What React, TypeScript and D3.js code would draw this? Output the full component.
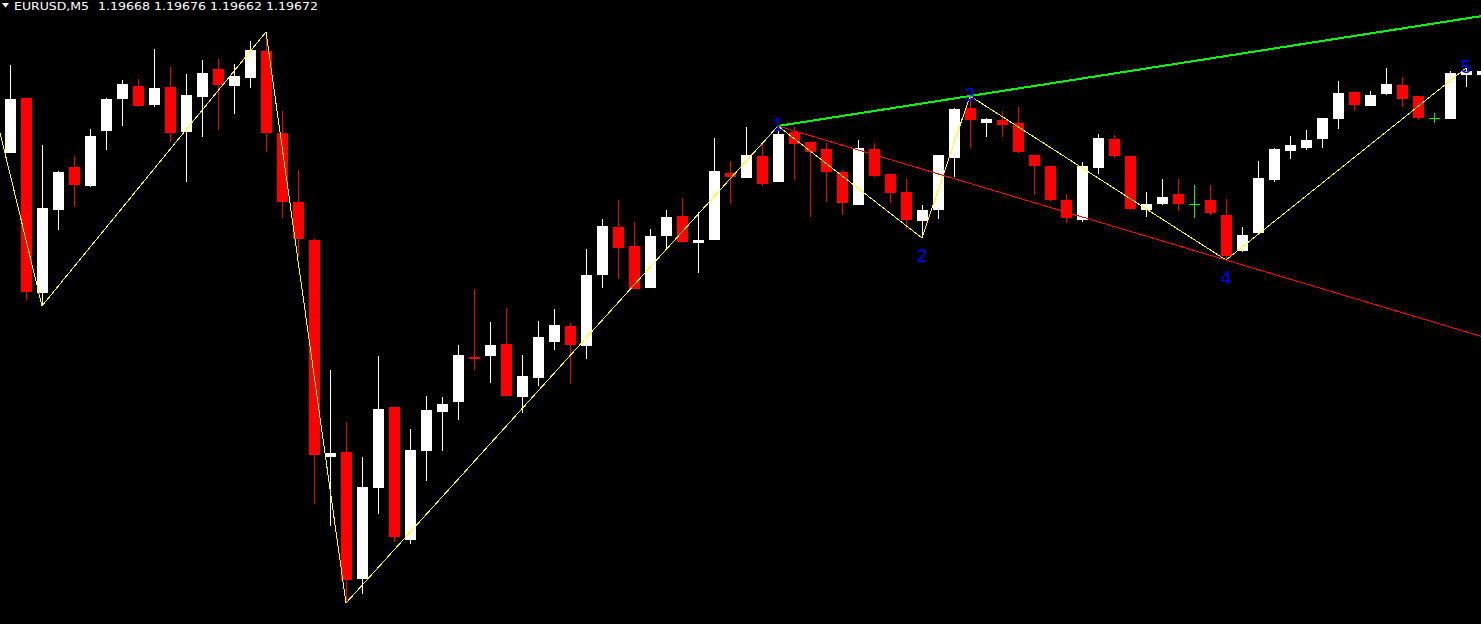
import React from "react";
import * as d3 from "d3";

const symbol = "EURUSD,M5";

const opens = [
  1.1959, 1.19645, 1.1945, 1.19533, 1.19576, 1.19557, 1.19612, 1.19644, 1.19657, 1.19638,
  1.19656, 1.19611, 1.19646, 1.19674, 1.19657, 1.19665, 1.19692, 1.1961, 1.19541, 1.19503,
  1.19286, 1.19291, 1.19164, 1.19255, 1.19336, 1.19203, 1.19292, 1.19331, 1.19341, 1.19386,
  1.19387, 1.19399, 1.19346, 1.19365, 1.19401, 1.19417, 1.19397, 1.19468, 1.19516, 1.19497,
  1.19455, 1.19507, 1.19527, 1.195, 1.19503, 1.1957, 1.19565, 1.19587, 1.19561, 1.19611,
  1.19601, 1.19594, 1.19571, 1.19538, 1.19594, 1.19569, 1.19551, 1.19522, 1.19533, 1.19585,
  1.19635, 1.1962, 1.19623, 1.1962, 1.19588, 1.19577, 1.19543, 1.19523, 1.19575, 1.19604,
  1.19587, 1.19533, 1.19539, 1.19549, 1.19539, 1.19543, 1.19528, 1.19492, 1.1951, 1.19563,
  1.19592, 1.19595, 1.19604, 1.19624, 1.19651, 1.19637, 1.19649, 1.19658, 1.19647, 1.19625,
  1.19624, 1.19668, 1.19668,
];
const highs = [
  1.19678, 1.19645, 1.19598, 1.19572, 1.19587, 1.19614, 1.19645, 1.19663, 1.19664, 1.19694,
  1.19676, 1.19669, 1.19683, 1.19684, 1.19679, 1.19702, 1.19711, 1.19632, 1.19573, 1.19504,
  1.19373, 1.19321, 1.19286, 1.19387, 1.19336, 1.19314, 1.19347, 1.19346, 1.19398, 1.19454,
  1.19421, 1.19435, 1.19388, 1.19422, 1.19434, 1.1942, 1.19494, 1.19524, 1.19543, 1.19521,
  1.19514, 1.19533, 1.19545, 1.19531, 1.19605, 1.19582, 1.19616, 1.19599, 1.19617, 1.19616,
  1.19601, 1.196, 1.19573, 1.19603, 1.196, 1.19569, 1.19564, 1.19538, 1.19588, 1.19635,
  1.19647, 1.19625, 1.19632, 1.19636, 1.19588, 1.19577, 1.19549, 1.19581, 1.19609, 1.19608,
  1.19587, 1.19551, 1.19564, 1.19564, 1.19558, 1.19558, 1.19544, 1.19516, 1.19582, 1.19595,
  1.19607, 1.19613, 1.19625, 1.19662, 1.19652, 1.19652, 1.19675, 1.19666, 1.19647, 1.1963,
  1.19672, 1.19675, 1.19676,
];
const lows = [
  1.1959, 1.19443, 1.19437, 1.19513, 1.19536, 1.19556, 1.19593, 1.19617, 1.19636, 1.19636,
  1.19601, 1.19561, 1.19606, 1.19613, 1.19629, 1.19655, 1.19591, 1.19525, 1.19486, 1.19239,
  1.19217, 1.1914, 1.19149, 1.19229, 1.19201, 1.19199, 1.19262, 1.19292, 1.19323, 1.19373,
  1.1936, 1.19346, 1.1933, 1.19357, 1.19393, 1.19359, 1.19384, 1.19455, 1.19464, 1.19454,
  1.19455, 1.19495, 1.195, 1.1947, 1.19503, 1.19539, 1.19565, 1.19557, 1.19561, 1.19563,
  1.19526, 1.19541, 1.19528, 1.19538, 1.19566, 1.1954, 1.19514, 1.19505, 1.19524, 1.19566,
  1.19595, 1.19606, 1.19606, 1.1959, 1.19548, 1.19542, 1.1952, 1.19521, 1.19569, 1.19585,
  1.19533, 1.19526, 1.19538, 1.19532, 1.19525, 1.19528, 1.19483, 1.19491, 1.1951, 1.19561,
  1.19584, 1.19593, 1.19595, 1.19614, 1.19632, 1.19637, 1.19648, 1.19636, 1.19623, 1.1962,
  1.19624, 1.19656, 1.19662,
];
const closes = [
  1.19644, 1.19451, 1.19535, 1.19571, 1.19558, 1.19607, 1.19644, 1.19659, 1.19637, 1.19655,
  1.1961, 1.19648, 1.1967, 1.19658, 1.19667, 1.19693, 1.1961, 1.19541, 1.19504, 1.19288,
  1.1929, 1.19163, 1.19256, 1.19334, 1.19206, 1.19293, 1.19333, 1.19339, 1.19388, 1.19384,
  1.19398, 1.19347, 1.19367, 1.19406, 1.19418, 1.19398, 1.19468, 1.19517, 1.19495, 1.19454,
  1.19507, 1.19526, 1.19501, 1.19503, 1.19572, 1.19566, 1.19588, 1.19559, 1.19609, 1.19599,
  1.19591, 1.19571, 1.1954, 1.19595, 1.19567, 1.1955, 1.19523, 1.19533, 1.19588, 1.19634,
  1.19623, 1.19624, 1.19618, 1.19591, 1.19577, 1.19543, 1.19525, 1.19577, 1.19605, 1.19587,
  1.19534, 1.19539, 1.19546, 1.19539, 1.19539, 1.1953, 1.19487, 1.19508, 1.19565, 1.19594,
  1.19598, 1.19603, 1.19625, 1.1965, 1.19638, 1.19648, 1.19659, 1.19644, 1.19625, 1.19625,
  1.1967, 1.19672, 1.19672,
];

// ZigZag pivots (bar index, price)
const pivotIndex = [-1, 2, 16, 21, 48, 57, 60, 76, 91];
const pivotPrice = [1.19635, 1.19437, 1.19711, 1.1914, 1.19617, 1.19505, 1.19647, 1.19483, 1.19675];
// wave labels on the last five pivots
const waveLabels = ["1", "2", "3", "4", "5"];
const waveIsHigh = [true, false, true, false, true];

const W = 1481;
const H = 624;

export default function App() {
  const n = opens.length;
  const x = d3.scaleLinear().domain([0, n - 1]).range([10, 10 + 16 * (n - 1)]);
  const y = d3.scaleLinear().domain([1.19119, 1.19743]).range([H, 0]);
  const ry = (p: number) => Math.round(y(p));

  const candles = d3.range(n).map((i) => {
    const o = opens[i], c = closes[i], h = highs[i], l = lows[i];
    const cx = Math.round(x(i));
    const color = c > o ? "#ffffff" : c < o ? "#ff0000" : "#00ff00";
    const top = ry(Math.max(o, c));
    const bot = ry(Math.min(o, c));
    return (
      <g key={i}>
        <rect x={cx} y={ry(h)} width={1} height={Math.max(1, ry(l) - ry(h))} fill={color} />
        {c === o ? (
          <rect x={cx - 5} y={top} width={11} height={1} fill={color} />
        ) : (
          <rect x={cx - 5} y={top} width={11} height={Math.max(1, bot - top)} fill={color} />
        )}
      </g>
    );
  });

  const pts = pivotIndex.map((idx, k) => [x(idx), y(pivotPrice[k])] as [number, number]);
  const zigzag = d3.line()(pts) || "";

  const wave = waveLabels.map((lab, k) => {
    const pk = pivotIndex.length - 5 + k;
    return { lab, idx: pivotIndex[pk], price: pivotPrice[pk], high: waveIsHigh[k] };
  });

  const extendLine = (a: { idx: number; price: number }, b: { idx: number; price: number }) => {
    const slope = (b.price - a.price) / (b.idx - a.idx);
    const endIdx = n + 1;
    const endPrice = a.price + slope * (endIdx - a.idx);
    return d3.line()([
      [x(a.idx), y(a.price)],
      [x(endIdx), y(endPrice)],
    ]) || "";
  };
  const greenPath = extendLine(wave[0], wave[2]);
  const redPath = extendLine(wave[0], wave[3]);

  const last = n - 1;
  const headerNums = [opens[last], highs[last], lows[last], closes[last]].map((v) => v.toFixed(5)).join(" ");

  return (
    <svg
      width={W}
      height={H}
      style={{ position: "fixed", left: 0, top: 0, display: "block", background: "#000" }}
    >
      <rect x={0} y={0} width={W} height={H} fill="#000" />
      <g shapeRendering="crispEdges">{candles}</g>
      <path d={zigzag} fill="none" stroke="#ffff00" strokeWidth={1} shapeRendering="crispEdges" />
      <path d={redPath} fill="none" stroke="#ff0000" strokeWidth={1} shapeRendering="crispEdges" />
      <path d={greenPath} fill="none" stroke="#00ff00" strokeWidth={2} shapeRendering="crispEdges" />
      {wave.map((w) => (
        <text
          key={w.lab}
          x={x(w.idx)}
          y={y(w.price) + (w.high ? 5 : 24)}
          textAnchor="middle"
          fill="#0000ff"
          fontFamily="'Liberation Sans', Arial, sans-serif"
          fontSize={19}
        >
          {w.lab}
        </text>
      ))}
      <polygon points="2,3 9,3 5.5,7.5" fill="#ffffff" />
      <text
        x={14}
        y={10}
        fill="#ffffff"
        fontFamily="'DejaVu Sans', Tahoma, sans-serif"
        fontSize={11}
        textLength={75}
        lengthAdjust="spacingAndGlyphs"
      >
        {symbol}
      </text>
      <text
        x={98}
        y={10}
        fill="#ffffff"
        fontFamily="'DejaVu Sans', Tahoma, sans-serif"
        fontSize={11}
        textLength={220}
        lengthAdjust="spacingAndGlyphs"
      >
        {headerNums}
      </text>
    </svg>
  );
}
